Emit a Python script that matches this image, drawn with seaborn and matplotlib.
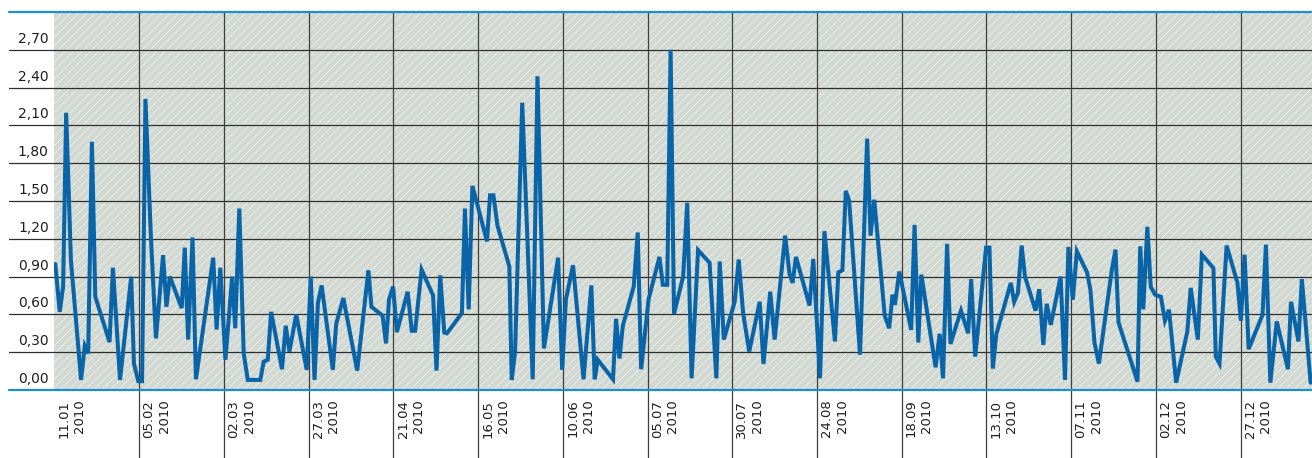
import numpy as np
import pandas as pd
import matplotlib
matplotlib.use("Agg")
import matplotlib.pyplot as plt
import matplotlib.transforms as mtransforms
from matplotlib.patches import Rectangle
import seaborn as sns

# ---------------- data ----------------
start_date = "2010-01-11"
day_offsets = [
    0.2, 1.5, 2.5, 3.4, 4.8, 7.8, 8.9, 9.9, 11.0, 12.0, 16.2, 17.2, 19.3, 22.6, 23.4, 24.7,
    25.8, 26.8, 28.4, 29.9, 32.0, 33.0, 34.0, 37.5, 38.4, 39.4, 40.7, 41.7, 46.8, 47.8, 48.9,
    50.4, 52.4, 53.3, 54.5, 55.8, 57.0, 60.7, 61.7, 62.9, 63.9, 67.1, 68.2, 69.3, 71.3, 74.4,
    75.6, 76.7, 77.7, 78.8, 82.1, 83.1, 85.2, 89.3, 92.6, 93.5, 96.8, 97.8, 98.7, 99.9,
    101.0, 104.2, 105.4, 106.4, 108.3, 111.7, 112.7, 113.8, 115.0, 115.8, 120.2, 121.1, 122.2,
    123.3, 127.6, 128.5, 129.5, 130.7, 134.2, 134.9, 135.9, 138.0, 141.1, 142.5, 144.4, 148.6,
    149.8, 150.9, 153.0, 156.1, 158.4, 159.4, 160.3, 164.8, 165.7, 166.7, 167.7, 170.9, 172.1,
    173.1, 175.3, 178.5, 179.5, 180.8, 181.8, 182.8, 185.5, 186.7, 188.0, 189.9, 193.3, 195.3,
    196.3, 197.5, 200.7, 201.9, 203.2, 205.0, 208.1, 209.2, 211.2, 212.5, 215.6, 216.9, 217.8,
    218.8, 222.8, 223.9, 225.9, 227.2, 230.3, 231.3, 232.5, 233.5, 234.5, 237.7, 239.8, 240.8,
    241.9, 245.0, 246.3, 247.3, 248.0, 249.3, 252.8, 253.8, 254.9, 255.8, 260.0, 261.2, 262.2,
    263.4, 264.4, 267.5, 269.6, 270.5, 271.7, 274.9, 275.9, 276.9, 277.9, 282.2, 283.2, 284.3,
    285.4, 286.4, 289.5, 290.6, 291.8, 292.8, 294.0, 296.9, 298.2, 299.2, 300.5, 301.7, 304.7,
    305.7, 306.9, 308.2, 312.0, 313.1, 314.0, 319.6, 320.4, 321.3, 322.5, 323.5, 324.8, 326.5,
    327.7, 328.9, 331.0, 334.3, 335.3, 337.4, 338.6, 342.0, 342.7, 343.8, 345.9, 349.1, 350.1,
    351.2, 352.4, 356.5, 357.5, 358.8, 360.7, 364.0, 364.9, 367.1, 368.1, 370.7,
]
values = [
    1.00, 0.62, 0.82, 2.20, 1.03, 0.08, 0.35, 0.29, 1.97, 0.74, 0.38, 0.97, 0.08, 0.90, 0.21, 0.07,
    0.07, 2.31, 1.22, 0.41, 1.07, 0.66, 0.90, 0.65, 1.13, 0.40, 1.21, 0.085, 1.05, 0.48, 0.97,
    0.24, 0.90, 0.49, 1.44, 0.29, 0.08, 0.08, 0.225, 0.24, 0.62, 0.165, 0.51, 0.305, 0.60, 0.16,
    0.90, 0.08, 0.69, 0.83, 0.16, 0.525, 0.73, 0.154, 0.95, 0.66, 0.59, 0.37, 0.72, 0.82,
    0.46, 0.78, 0.47, 0.47, 0.955, 0.75, 0.154, 0.91, 0.456, 0.45, 0.61, 1.44, 0.64,
    1.62, 1.18, 1.545, 1.545, 1.305, 0.98, 0.08, 0.305, 2.28, 0.085, 2.49, 0.33, 1.05,
    0.16, 0.72, 0.99, 0.085, 0.83, 0.085, 0.24, 0.085, 0.565, 0.25, 0.51, 0.82, 1.25,
    0.165, 0.72, 1.056, 0.835, 0.835, 2.70, 0.605, 0.90, 1.485, 0.093, 1.11, 1.01, 0.093,
    1.02, 0.40, 0.70, 1.035, 0.61, 0.305, 0.70, 0.207, 0.78, 0.40, 1.225, 0.92, 0.85,
    1.056, 0.67, 1.04, 0.093, 1.26, 0.385, 0.934, 0.95, 1.58, 1.50, 0.28, 1.995, 1.225,
    1.51, 0.59, 0.49, 0.756, 0.676, 0.94, 0.477, 1.31, 0.377, 0.915, 0.18, 0.446, 0.093,
    1.16, 0.366, 0.63, 0.45, 0.88, 0.265, 1.13, 1.13, 0.17, 0.44, 0.85, 0.70, 0.77,
    1.146, 0.90, 0.63, 0.80, 0.358, 0.684, 0.517, 0.90, 0.08, 1.135, 0.716, 1.10, 0.934,
    0.796, 0.377, 0.21, 0.95, 1.114, 0.536, 0.066, 1.14, 0.64, 1.295, 0.82, 0.756, 0.74,
    0.55, 0.637, 0.058, 0.464, 0.81, 0.40, 1.074, 0.968, 0.265, 0.21, 1.146, 0.85, 0.55,
    1.074, 0.324, 0.597, 1.154, 0.058, 0.544, 0.165, 0.70, 0.385, 0.88, 0.058,
]
tick_step_days = 25
tick_count = 15
y_ticks = [0.0, 0.3, 0.6, 0.9, 1.2, 1.5, 1.8, 2.1, 2.4, 2.7]
y_max = 3.0
x_span_days = 371.1

# ---------------- styling ----------------
W, H, DPI = 1312, 458, 100
LINE_BLUE = "#0a64a8"
EDGE_BLUE = "#1b8fd2"
BG = "#d2d8d2"
GRID = "#2e2e2e"
VGRID = "#3f3f3f"

sns.set_theme(style="white")
plt.rcParams["font.family"] = ["DejaVu Sans"]
plt.rcParams["hatch.linewidth"] = 0.45

fig = plt.figure(figsize=(W / DPI, H / DPI), dpi=DPI)
ax_left, ax_right, ax_top, ax_bottom = 54.3, 1312, 12, 390
ax = fig.add_axes([ax_left / W, 1 - ax_bottom / H, (ax_right - ax_left) / W, (ax_bottom - ax_top) / H])
ax_w_px = ax_right - ax_left
ax_h_px = ax_bottom - ax_top

ax.patch.set_visible(False)
ax.add_patch(Rectangle((0, 0), 1, 1, transform=ax.transAxes, facecolor=BG,
                       edgecolor="#f4f6f4", hatch="////", linewidth=0, zorder=0))

t0 = pd.Timestamp(start_date)
df = pd.DataFrame({
    "date": t0 + pd.to_timedelta(day_offsets, unit="D"),
    "value": values,
})

sns.lineplot(data=df, x="date", y="value", ax=ax, color=LINE_BLUE, linewidth=2.9,
             estimator=None, sort=False, zorder=4)
for ln in ax.lines:
    ln.set_solid_joinstyle("miter")

ax.set_xlim(t0 - pd.Timedelta(hours=2.4), t0 + pd.Timedelta(days=x_span_days))
ax.set_ylim(0, y_max)

# horizontal grid lines extend into the label column
ext = -45 / ax_w_px
for yv in y_ticks[1:]:
    ax.axhline(yv, xmin=ext, xmax=1, color=GRID, lw=0.9, clip_on=False, zorder=2)
ax.axhline(y_max, xmin=ext, xmax=1, color=EDGE_BLUE, lw=1.6, clip_on=False, zorder=5)
ax.axhline(0, xmin=ext, xmax=1, color=EDGE_BLUE, lw=1.6, clip_on=False, zorder=5)

# vertical lines at date ticks, running down to the figure bottom
tick_dates = [t0 + pd.Timedelta(days=tick_step_days * k) for k in range(tick_count)]
below = -(H - ax_bottom) / ax_h_px
for d in tick_dates[1:]:
    ax.axvline(d, ymin=below, ymax=1, color=VGRID, lw=0.9, clip_on=False, zorder=2)

# tick labels
ax.set_yticks(y_ticks)
ax.set_yticklabels([f"{v:.2f}".replace(".", ",") for v in y_ticks])
ax.tick_params(axis="y", length=0, pad=4, labelsize=10, labelcolor="#1e1e1e")
up = mtransforms.ScaledTranslation(0, 12.5 / DPI, fig.dpi_scale_trans)
for lab in ax.get_yticklabels():
    lab.set_transform(lab.get_transform() + up)

ax.set_xticks(tick_dates)
ax.set_xticklabels([d.strftime("%d.%m\n%Y") for d in tick_dates], rotation=90,
                   ha="left", va="top", ma="right", linespacing=1.25)
ax.tick_params(axis="x", length=0, pad=7, labelsize=9.5, labelcolor="#1e1e1e")
right = mtransforms.ScaledTranslation(3.2 / DPI, 0, fig.dpi_scale_trans)
for lab in ax.get_xticklabels():
    lab.set_transform(lab.get_transform() + right)

ax.set_xlabel("")
ax.set_ylabel("")
ax.grid(False)
for s in ax.spines.values():
    s.set_visible(False)

fig.savefig("out.png", dpi=DPI, facecolor="white")
